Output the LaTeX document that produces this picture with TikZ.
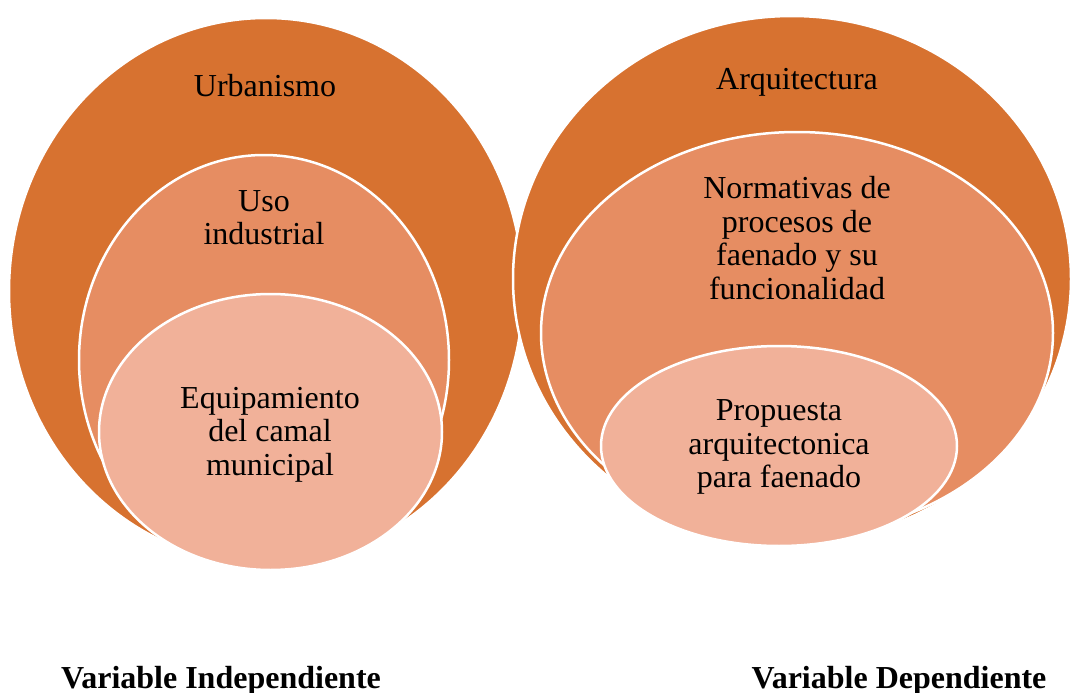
\documentclass[tikz,border=0pt]{standalone}
\usepackage{fontspec}
\setmainfont{Liberation Serif}
\definecolor{ringdark}{HTML}{D77230}
\definecolor{ringmid}{HTML}{E68D62}
\definecolor{ringlight}{HTML}{F1B199}

\begin{document}
\begin{tikzpicture}[x=1pt,y=-1pt,
	ring/.style={draw=white, line width=2.5pt},
	lbl/.style={align=center, inner sep=0pt, font=\fontsize{32}{33.5}\selectfont},
	varlbl/.style={anchor=base, inner sep=0pt, font=\fontsize{32}{33.5}\selectfont\bfseries}]
			\useasboundingbox (0,0) rectangle (1072,693);
			% variable independiente
			\fill [ring, fill=ringdark] (266,291) ellipse [x radius=257, y radius=273];
			\fill [ring, fill=ringmid] (264,360) ellipse [x radius=185, y radius=205];
			\fill [ring, fill=ringlight] (270.5,432) ellipse [x radius=171.5, y radius=138];
			% variable dependiente
			\fill [ring, fill=ringdark] (792,279) ellipse [x radius=279, y radius=263];
			\fill [ring, fill=ringmid] (797,333) ellipse [x radius=256, y radius=201];
			\fill [ring, fill=ringlight] (779,446) ellipse [x radius=178, y radius=100];
			\node [lbl, anchor=base] (urb) at (265,96) {Urbanismo};
			\node [lbl] (uso) at (264,217.5) {Uso\\industrial};
			\node [lbl] (equip) at (270,434.5) {Equipamiento\\del camal\\municipal};
			\node [lbl, anchor=base] (arq) at (797,90) {Arquitectura};
			\node [lbl] (norm) at (797,238) {Normativas de\\procesos de\\faenado y su\\funcionalidad};
			\node [lbl] (prop) at (779,447) {Propuesta\\arquitectonica\\para faenado};
			\node [varlbl] (varind) at (221,688) {Variable Independiente};
			\node [varlbl] (vardep) at (899,688) {Variable Dependiente};
		\end{tikzpicture}
\end{document}
